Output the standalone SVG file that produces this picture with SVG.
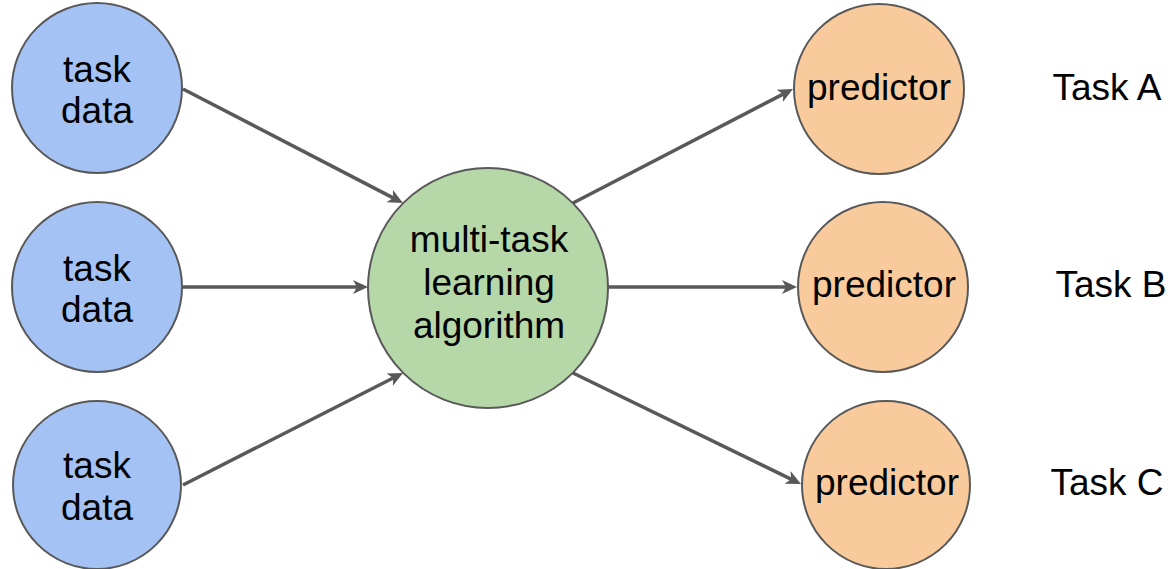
<svg xmlns="http://www.w3.org/2000/svg" width="1174" height="569" viewBox="0 0 1174 569">
  <style>
    .node { stroke: #595959; stroke-width: 2; }
    .data { fill: #a4c2f4; }
    .algo { fill: #b6d7a8; }
    .pred { fill: #f9cb9c; }
    text { font-family: "Liberation Sans", Arial, sans-serif; font-size: 37px; fill: #000; text-anchor: middle; }
    .edge { stroke: #595959; stroke-width: 3.5; fill: none; marker-end: url(#arrow); }
  </style>
  <defs>
    <marker id="arrow" markerUnits="userSpaceOnUse" markerWidth="16" markerHeight="16" refX="5" refY="7" orient="auto">
      <path d="M0,0 L15,7 L0,14 L4,7 Z" fill="#595959"/>
    </marker>
  </defs>
  <rect width="1174" height="569" fill="#ffffff"/>
  <g id="connectors">
    <line class="edge" x1="183" y1="89" x2="394.1" y2="198.4"/>
    <line class="edge" x1="183" y1="287" x2="358" y2="287"/>
    <line class="edge" x1="183" y1="485" x2="394.1" y2="377.5"/>
    <line class="edge" x1="573" y1="203" x2="784.1" y2="93.6"/>
    <line class="edge" x1="608" y1="287" x2="787" y2="287"/>
    <line class="edge" x1="573" y1="373" x2="792" y2="479.6"/>
  </g>
  <g id="data1">
    <circle class="node data" cx="97" cy="88" r="85"/>
    <text x="97" y="82">task</text>
    <text x="97" y="123">data</text>
  </g>
  <g id="data2">
    <circle class="node data" cx="97" cy="287" r="85"/>
    <text x="97" y="281">task</text>
    <text x="97" y="322">data</text>
  </g>
  <g id="data3">
    <circle class="node data" cx="97" cy="485" r="84"/>
    <text x="97" y="478">task</text>
    <text x="97" y="520">data</text>
  </g>
  <g id="algorithm">
    <circle class="node algo" cx="488" cy="288" r="120"/>
    <text x="489" y="252">multi-task</text>
    <text x="489" y="295">learning</text>
    <text x="489" y="338">algorithm</text>
  </g>
  <g id="predictorA">
    <circle class="node pred" cx="879" cy="89" r="85"/>
    <text x="879" y="100">predictor</text>
  </g>
  <g id="predictorB">
    <circle class="node pred" cx="883" cy="287" r="85"/>
    <text x="884" y="297">predictor</text>
  </g>
  <g id="predictorC">
    <circle class="node pred" cx="886" cy="485" r="84"/>
    <text x="887" y="495">predictor</text>
  </g>
  <g id="labelA"><text x="1107" y="100">Task A</text></g>
  <g id="labelB"><text x="1111" y="297">Task B</text></g>
  <g id="labelC"><text x="1107" y="495">Task C</text></g>
</svg>
